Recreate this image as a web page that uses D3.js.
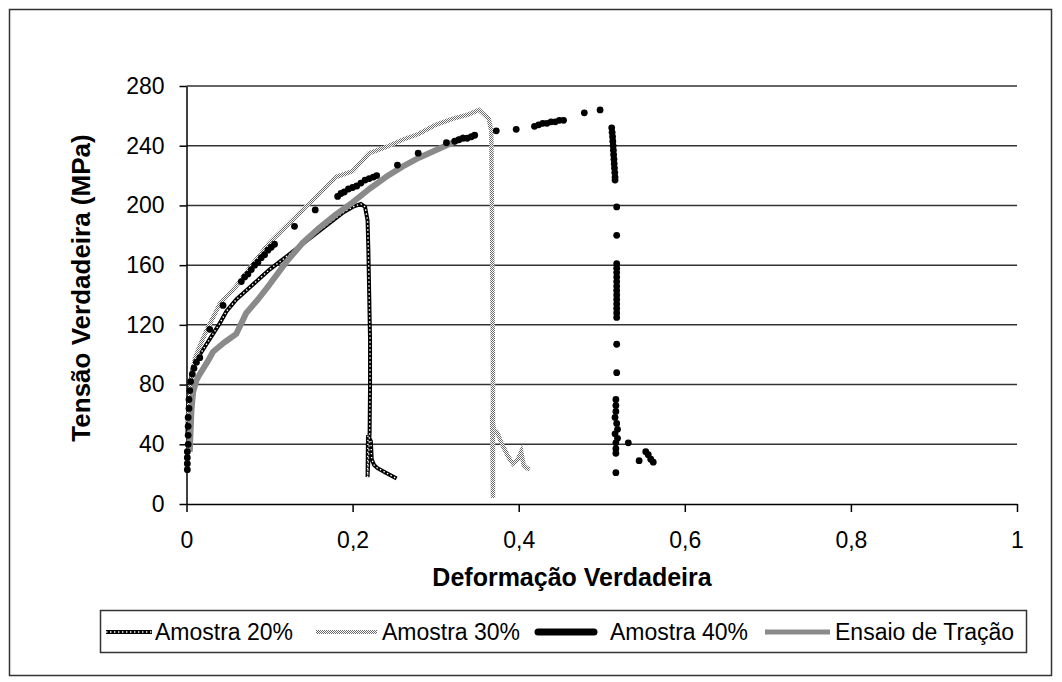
<!DOCTYPE html>
<html>
<head>
<meta charset="utf-8">
<script src="https://cdn.jsdelivr.net/npm/d3@7"></script>
<style>
body { margin: 0; background: #fff; }
svg text { font-family: "Liberation Sans", Arial, sans-serif; fill: #000; }
</style>
</head>
<body>
<script>
var width = 1062;
var height = 682;
var plot = { left: 186.5, right: 1017, top: 86, bottom: 504 };

// axes
var xTicks = [0, 0.2, 0.4, 0.6, 0.8, 1];
var xTickLabels = ['0', '0,2', '0,4', '0,6', '0,8', '1'];
var yTicks = [0, 40, 80, 120, 160, 200, 240, 280];

var seriesNames = ['Amostra 20%', 'Amostra 30%', 'Amostra 40%', 'Ensaio de Tração'];

// Amostra 20% (line)
var strain20 = [0.001, 0.002, 0.004, 0.008, 0.012, 0.016, 0.024, 0.032, 0.04, 0.048, 0.06, 0.076, 0.088, 0.1, 0.114, 0.128, 0.144, 0.16, 0.174, 0.188, 0.2, 0.21, 0.215, 0.218, 0.219, 0.22, 0.221, 0.221, 0.2205, 0.218, 0.2185, 0.222, 0.223, 0.226, 0.23, 0.24, 0.253];
var stress20 = [45, 65, 80, 92, 97, 100, 107, 114, 121, 129, 137, 145, 151, 157, 163, 169, 176, 183, 189, 195, 199, 201, 199, 190, 170, 140, 110, 80, 48, 18, 46, 42, 30, 26, 24, 21, 17];

// Amostra 30% (dotted line)
var strain30 = [0.002, 0.005, 0.01, 0.016, 0.024, 0.032, 0.04, 0.05, 0.06, 0.08, 0.1, 0.12, 0.14, 0.16, 0.18, 0.2, 0.22, 0.24, 0.26, 0.28, 0.3, 0.32, 0.34, 0.352, 0.358, 0.364, 0.367, 0.368, 0.369, 0.369, 0.368, 0.37, 0.374, 0.38, 0.387, 0.393, 0.399, 0.403, 0.406, 0.41, 0.413];
var stress30 = [55, 80, 97, 106, 116, 125, 134, 140, 146, 161, 175, 186, 197, 208, 219, 223, 235, 239, 244, 248, 254, 258, 261, 264, 261, 258, 250, 180, 90, 4, 60, 50, 48, 40, 32, 27, 30, 35, 26, 24, 23];

// Amostra 40% (markers only)
var strain40 = [0.001, 0.001, 0.001, 0.001, 0.002, 0.002, 0.002, 0.002, 0.003, 0.003, 0.004, 0.005, 0.007, 0.009, 0.012, 0.016, 0.028, 0.044,
  0.066, 0.07, 0.074, 0.078, 0.082, 0.086, 0.09, 0.094, 0.098, 0.102, 0.106, 0.13, 0.155,
  0.182, 0.186, 0.19, 0.195, 0.2, 0.205, 0.21, 0.215, 0.22, 0.225, 0.229, 0.254, 0.279, 0.313,
  0.323, 0.328, 0.333, 0.338, 0.343, 0.347, 0.373, 0.397,
  0.419, 0.424, 0.429, 0.434, 0.439, 0.444, 0.449, 0.454, 0.479, 0.498,
  0.512, 0.5125, 0.513, 0.5133, 0.5137, 0.514, 0.5143, 0.5147, 0.515, 0.5153, 0.5157, 0.516, 0.516,
  0.518, 0.518,
  0.518, 0.518, 0.518, 0.518, 0.518, 0.518, 0.518, 0.518, 0.518, 0.518, 0.518, 0.518, 0.518,
  0.518, 0.518,
  0.517, 0.517, 0.517, 0.516, 0.518, 0.519, 0.516, 0.519, 0.517, 0.517, 0.517,
  0.532, 0.517, 0.545, 0.553, 0.556, 0.559, 0.562];
var stress40 = [23, 27, 31, 35, 40, 46, 52, 58, 64, 70, 76, 82, 87, 91, 95, 98, 117, 133,
  149, 152, 154, 157, 160, 162, 165, 167, 170, 172, 174, 186, 197,
  206, 208, 209, 211, 212, 213, 215, 217, 218, 219, 220, 227, 235, 242,
  243, 244, 245, 245, 246, 247, 250, 251,
  253, 254, 255, 255, 256, 256, 257, 257, 262, 264,
  252, 249, 246, 243, 240, 237, 234, 231, 228, 225, 222, 219, 217,
  199, 180,
  161, 158, 155, 152, 149, 146, 143, 140, 137, 134, 131, 128, 125,
  107, 88,
  70, 66, 62, 58, 54, 50, 47, 44, 41, 37, 34,
  41, 21, 29, 35, 33, 30, 28];

// Ensaio de Tração (solid grey line)
var strainT = [0.004, 0.005, 0.006, 0.008, 0.012, 0.016, 0.025, 0.032, 0.045, 0.06, 0.072, 0.086, 0.1, 0.12, 0.14, 0.16, 0.18, 0.2, 0.22, 0.24, 0.26, 0.28, 0.3, 0.32, 0.335];
var stressT = [35, 50, 63, 75, 83, 87, 95, 102, 108, 114, 128, 137, 147, 162, 175, 185, 194, 202, 211, 219, 226, 232, 237, 242, 246];

function zip(xs, ys) {
  return xs.map(function (d, i) { return [d, ys[i]]; });
}

var svg = d3.select('body')
            .append('svg')
            .attr('width', width)
            .attr('height', height);

var defs = svg.append('defs');
var pat = defs.append('pattern')
              .attr('id', 'dots30')
              .attr('patternUnits', 'userSpaceOnUse')
              .attr('width', 2)
              .attr('height', 2);
pat.append('rect').attr('width', 2).attr('height', 2).attr('fill', '#fff');
pat.append('rect').attr('width', 1).attr('height', 1).attr('fill', '#6a6a6a');
pat.append('rect').attr('x', 1).attr('y', 1).attr('width', 1).attr('height', 1).attr('fill', '#6a6a6a');

// outer frame
svg.append('rect')
    .attr('x', 9.5).attr('y', 9.5)
    .attr('width', 1042).attr('height', 666)
    .attr('fill', '#fff')
    .attr('stroke', '#333')
    .attr('stroke-width', 1.5);

var xScale = d3.scaleLinear()
                .domain([0, 1])
                .range([plot.left, plot.right]);

var yScale = d3.scaleLinear()
                .domain([0, 280])
                .range([plot.bottom, plot.top]);

// gridlines
svg.append('g')
    .selectAll('line')
    .data(yTicks.slice(1))
    .enter()
    .append('line')
    .attr('x1', plot.left)
    .attr('x2', plot.right)
    .attr('y1', function (d) { return yScale(d); })
    .attr('y2', function (d) { return yScale(d); })
    .attr('stroke', '#333')
    .attr('stroke-width', 1.5);

var yAxis = svg.append('g')
    .attr('transform', `translate(${plot.left},0)`)
    .call(d3.axisLeft(yScale).tickValues(yTicks).tickSize(7).tickPadding(15).tickSizeOuter(0));

var xAxis = svg.append('g')
    .attr('transform', `translate(0,${plot.bottom})`)
    .call(d3.axisBottom(xScale)
      .tickValues(xTicks)
      .tickFormat(function (d, i) { return xTickLabels[i]; })
      .tickSize(8).tickPadding(20).tickSizeOuter(0));

[yAxis, xAxis].forEach(function (g) {
  g.selectAll('path, line').attr('stroke', '#000').attr('stroke-width', 1.5);
  g.selectAll('text').style('font-size', '23px').attr('fill', '#000');
});

// axis titles
svg.append('text')
    .attr('x', 572)
    .attr('y', 586)
    .attr('text-anchor', 'middle')
    .style('font-size', '25px')
    .style('font-weight', 'bold')
    .text('Deformação Verdadeira');

svg.append('text')
    .attr('transform', 'translate(90,288) rotate(-90)')
    .attr('text-anchor', 'middle')
    .style('font-size', '26px')
    .style('font-weight', 'bold')
    .text('Tensão Verdadeira (MPa)');

var line = d3.line()
              .x(function (d) { return xScale(d[0]); })
              .y(function (d) { return yScale(d[1]); });

var series = svg.append('g');

// Amostra 20%
series.append('path')
    .attr('d', line(zip(strain20, stress20)))
    .attr('fill', 'none')
    .attr('stroke', '#000')
    .attr('stroke-width', 4);
series.append('path')
    .attr('d', line(zip(strain20, stress20)))
    .attr('fill', 'none')
    .attr('stroke', '#fff')
    .attr('stroke-width', 1.4)
    .attr('stroke-dasharray', '1.4,2.6');

// Amostra 30%
series.append('path')
    .attr('d', line(zip(strain30, stress30)))
    .attr('fill', 'none')
    .attr('stroke', 'url(#dots30)')
    .attr('stroke-width', 4.5);

// Ensaio de Tração
series.append('path')
    .attr('d', line(zip(strainT, stressT)))
    .attr('fill', 'none')
    .attr('stroke', '#8a8a8a')
    .attr('stroke-width', 6)
    .attr('stroke-linejoin', 'round');

// Amostra 40%
series.selectAll('circle')
    .data(zip(strain40, stress40))
    .enter()
    .append('circle')
    .attr('cx', function (d) { return xScale(d[0]); })
    .attr('cy', function (d) { return yScale(d[1]); })
    .attr('r', 3.4)
    .attr('fill', '#000');

// legend
var legend = svg.append('g');
legend.append('rect')
    .attr('x', 100.5).attr('y', 610.5)
    .attr('width', 926).attr('height', 42)
    .attr('fill', '#fff')
    .attr('stroke', '#333')
    .attr('stroke-width', 1.5);

var legendItems = [
  { x0: 106, x1: 152, tx: 155 },
  { x0: 316, x1: 377, tx: 382 },
  { x0: 538, x1: 594, tx: 610 },
  { x0: 765, x1: 830, tx: 835 }
];
var ly = 632;

legendItems.forEach(function (it, i) {
  var g = legend.append('g');
  if (i === 0) {
    g.append('line').attr('x1', it.x0).attr('x2', it.x1).attr('y1', ly).attr('y2', ly)
      .attr('stroke', '#000').attr('stroke-width', 4);
    g.append('line').attr('x1', it.x0).attr('x2', it.x1).attr('y1', ly).attr('y2', ly)
      .attr('stroke', '#fff').attr('stroke-width', 1.4).attr('stroke-dasharray', '1.4,2.6');
  } else if (i === 1) {
    g.append('line').attr('x1', it.x0).attr('x2', it.x1).attr('y1', ly).attr('y2', ly)
      .attr('stroke', 'url(#dots30)').attr('stroke-width', 4);
  } else if (i === 2) {
    g.append('line').attr('x1', it.x0).attr('x2', it.x1).attr('y1', ly).attr('y2', ly)
      .attr('stroke', '#000').attr('stroke-width', 7).attr('stroke-linecap', 'round');
  } else {
    g.append('line').attr('x1', it.x0).attr('x2', it.x1).attr('y1', ly).attr('y2', ly)
      .attr('stroke', '#8a8a8a').attr('stroke-width', 5);
  }
  g.append('text')
    .attr('x', it.tx)
    .attr('y', ly + 8)
    .style('font-size', '23px')
    .text(seriesNames[i]);
});
</script>
</body>
</html>
